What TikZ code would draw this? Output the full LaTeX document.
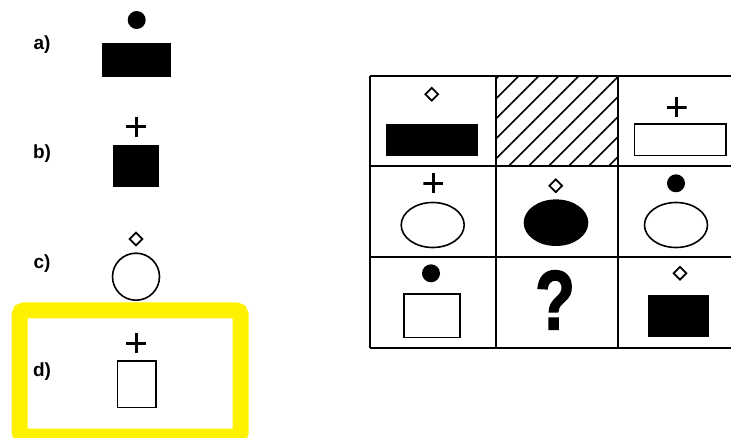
\documentclass[tikz,border=0pt]{standalone}
\usepackage{fontspec}
\setmainfont{Liberation Sans}
\newfontfamily\qfont[BoldFeatures={FakeBold=2}]{Liberation Sans}
\usetikzlibrary{shapes.geometric}
\tikzset{
  lbl/.style={font=\fontsize{19}{19}\selectfont\bfseries, inner sep=0pt},
  plusmark/.style={rectangle, minimum size=20pt, inner sep=0pt,
    path picture={\draw[line width=3pt]
      (path picture bounding box.north) -- (path picture bounding box.south)
      (path picture bounding box.west) -- (path picture bounding box.east);}},
  diamark/.style={diamond, draw, minimum width=13.5pt, minimum height=13.5pt, inner sep=0pt, line width=1.8pt},
  dotmark/.style={circle, fill=black, minimum size=18pt, inner sep=0pt},
  blackbox/.style={rectangle, fill=black, inner sep=0pt},
  whitebox/.style={rectangle, draw, line width=1.6pt, inner sep=0pt},
  oval/.style={ellipse, draw, line width=1.6pt, inner sep=0pt, minimum width=63pt, minimum height=45pt},
  grid/.style={line width=2pt},
  hatch/.style={line width=1.5pt},
}
\begin{document}
\begin{tikzpicture}[x=1pt,y=-1pt]
\useasboundingbox (0,0) rectangle (731,438);
\fill[white] (0,0) rectangle (731,438);
\clip (0,0) rectangle (731,438);

% options
\node[lbl] (la) at (42,45) {a)};
\node[dotmark] (adot) at (136.7,20) {};
\node[blackbox, minimum width=68.7pt, minimum height=33.4pt] (abox) at (136.7,60) {};

\node[lbl] (lb) at (42,153.3) {b)};
\node[plusmark] (bplus) at (136,126.7) {};
\node[blackbox, minimum width=45.7pt, minimum height=42.3pt] (bbox) at (136.2,166.2) {};

\node[lbl] (lc) at (42,263.3) {c)};
\node[diamark] (cdia) at (136,239) {};
\node[circle, draw, line width=1.6pt, minimum size=47pt, inner sep=0pt] (ccirc) at (136,276.7) {};

\draw[yellow, line width=16pt, rounded corners=4pt] (19.7,310.5) rectangle (240.5,436.5);
\node[lbl] (ld) at (42,371.7) {d)};
\node[plusmark] (dplus) at (136,343.3) {};
\node[whitebox, minimum width=38.7pt, minimum height=46.3pt] (dbox) at (136.7,384.2) {};

% hatched cell
\begin{scope}
\clip (496,76) rectangle (618.3,165.7);
\foreach \k in {-6,...,6} {
  \draw[hatch] ({509+\k*20},165.7) -- ++(110,-110);
}
\end{scope}

% grid
\draw[grid] (370,76) -- (740,76);
\draw[grid] (370,165.7) -- (740,165.7);
\draw[grid] (370,257.3) -- (740,257.3);
\draw[grid] (370,347.7) -- (740,347.7);
\draw[grid] (370,76) -- (370,347.7);
\draw[grid] (496,76) -- (496,347.7);
\draw[grid] (618.3,76) -- (618.3,347.7);

% row 1
\node[diamark] (g11d) at (431.7,94.3) {};
\node[blackbox, minimum width=92.3pt, minimum height=31.7pt] (g11b) at (432.2,139.9) {};
\node[plusmark] (g13p) at (676.7,107.3) {};
\node[whitebox, minimum width=91.7pt, minimum height=31.4pt] (g13b) at (680.2,140) {};

% row 2
\node[plusmark] (g21p) at (433.3,183.3) {};
\node[oval] (g21e) at (432.7,225) {};
\node[diamark] (g22d) at (555.7,185.7) {};
\node[oval, fill=black] (g22e) at (556,222.7) {};
\node[dotmark] (g23c) at (676,183.3) {};
\node[oval] (g23e) at (676,225) {};

% row 3
\node[dotmark] (g31c) at (431,273.3) {};
\node[whitebox, minimum width=56pt, minimum height=43.4pt] (g31b) at (431.7,316) {};
\node[font=\qfont\fontsize{84}{84}\selectfont\bfseries, inner sep=0pt, xscale=0.78] (g32q) at (555,300) {?};
\node[diamark] (g33d) at (680,273.3) {};
\node[blackbox, minimum width=61.3pt, minimum height=41.7pt] (g33b) at (678.4,315.9) {};
\end{tikzpicture}
\end{document}
